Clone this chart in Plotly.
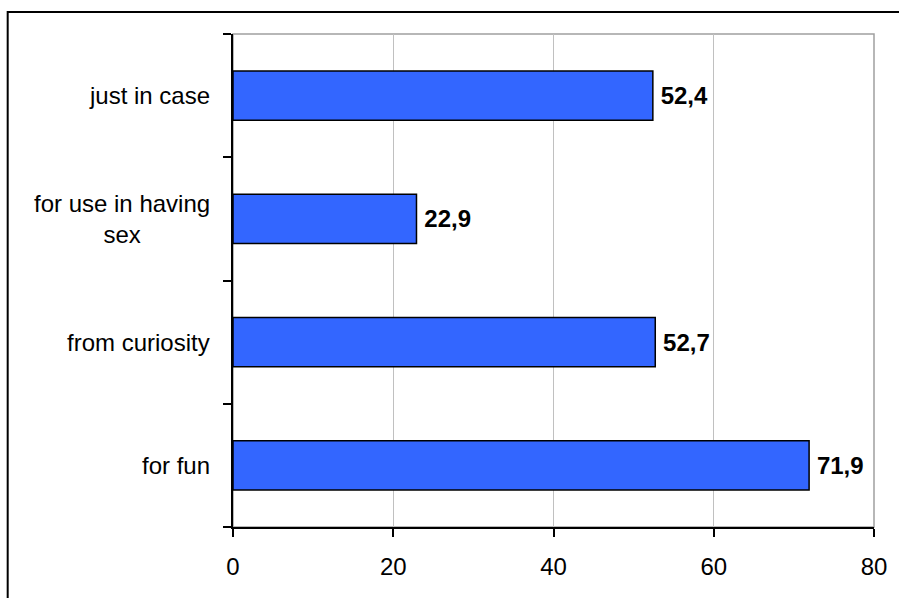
import plotly.graph_objects as go

categories = ["for fun", "from curiosity", "for use in having<br>sex", "just in case"]
values = [71.9, 52.7, 22.9, 52.4]
x_ticks = [0, 20, 40, 60, 80]

FONT = "Liberation Sans, Arial, sans-serif"
FS = 24

fig = go.Figure()
fig.add_trace(go.Bar(
    y=categories, x=values, orientation="h",
    marker=dict(color="#3366FF", line=dict(color="black", width=1.5)),
    texttemplate="\u2009%{x:.1f}", textposition="outside",
    textfont=dict(family=FONT, size=FS, color="black", weight="bold"),
    cliponaxis=False, hoverinfo="skip", width=0.4,
))

annotations = []
for c in categories:
    annotations.append(dict(
        x=0, y=c, xref="paper", yref="y", text=c, showarrow=False,
        xanchor="right", yanchor="middle", align="center", xshift=-21,
        font=dict(family=FONT, size=FS, color="black"),
    ))

shapes = [
    dict(type="rect", xref="paper", yref="paper", x0=0, x1=1, y0=0, y1=1,
         line=dict(color="#A0A0A0", width=1.5), layer="below"),
    dict(type="rect", xref="paper", yref="paper", x0=-0.3515, x1=1.2, y0=-0.3, y1=1.0446,
         line=dict(color="black", width=2), layer="above"),
]

fig.update_layout(
    width=899, height=598,
    margin=dict(l=233, r=23, t=34, b=71),
    paper_bgcolor="white", plot_bgcolor="white",
    separators=",.",
    showlegend=False,
    font=dict(family=FONT, size=FS, color="black"),
    annotations=annotations, shapes=shapes,
    xaxis=dict(
        range=[0, 80], tickvals=x_ticks, ticktext=[str(v) for v in x_ticks],
        showgrid=True, gridcolor="#C0C0C0", gridwidth=1,
        showline=True, linecolor="black", linewidth=2,
        ticks="outside", ticklen=8, tickwidth=1.5, tickcolor="black",
        ticklabelstandoff=9, zeroline=False,
        tickfont=dict(family=FONT, size=FS),
    ),
    yaxis=dict(
        type="category", categoryorder="array", categoryarray=categories,
        showticklabels=False, tickson="boundaries",
        showline=True, linecolor="black", linewidth=2,
        ticks="outside", ticklen=8, tickwidth=1.5, tickcolor="black",
        showgrid=False, range=[-0.5, 3.5],
    ),
)

fig.write_html(
    "out.html",
    config={"displayModeBar": False},
    post_script="document.body.style.margin='0';document.body.style.overflow='hidden';",
)
